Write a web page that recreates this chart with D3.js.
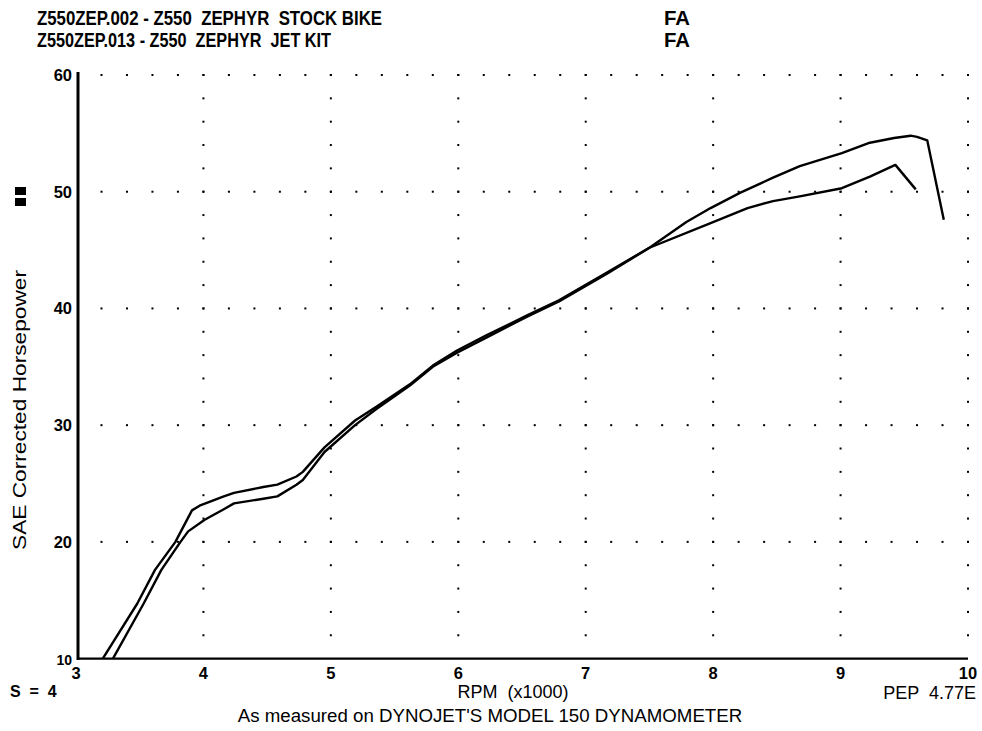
<!DOCTYPE html>
<html><head><meta charset="utf-8">
<script src="https://cdn.jsdelivr.net/npm/d3@7"></script>
<style>body{margin:0;background:#fff}svg{display:block}text{white-space:pre;fill:#000}</style></head>
<body>
<svg id="c" width="982" height="731"></svg>
<script>
const titleNames = ["Z550ZEP.002 - Z550  ZEPHYR  STOCK BIKE", "Z550ZEP.013 - Z550  ZEPHYR  JET KIT"];
const titleCodes = ["FA", "FA"];
const xTicks = [3, 4, 5, 6, 7, 8, 9, 10];
const yTicks = [10, 20, 30, 40, 50, 60];
const stockRpm = [3.29, 3.53, 3.67, 3.82, 3.88, 4.01, 4.16, 4.24, 4.47, 4.58, 4.73, 4.78, 4.95, 5.19, 5.36, 5.62, 5.80, 5.99, 6.22, 6.54, 6.79, 7.17, 7.50, 7.98, 8.27, 8.47, 8.68, 9.01, 9.23, 9.43, 9.59];
const stockHp  = [10.0, 14.7, 17.6, 20.0, 20.9, 21.9, 22.8, 23.3, 23.7, 23.9, 24.9, 25.3, 27.7, 30.0, 31.4, 33.4, 35.0, 36.2, 37.5, 39.3, 40.6, 43.0, 45.2, 47.3, 48.6, 49.2, 49.6, 50.3, 51.3, 52.3, 50.2];
const jetRpm = [3.21, 3.48, 3.62, 3.78, 3.91, 3.97, 4.16, 4.24, 4.47, 4.58, 4.73, 4.78, 4.95, 5.19, 5.36, 5.62, 5.80, 5.99, 6.22, 6.54, 6.79, 7.17, 7.50, 7.79, 7.98, 8.21, 8.47, 8.68, 9.01, 9.23, 9.42, 9.55, 9.60, 9.68, 9.81];
const jetHp  = [10.0, 14.7, 17.6, 20.0, 22.7, 23.1, 23.9, 24.2, 24.7, 24.9, 25.6, 26.0, 28.1, 30.4, 31.6, 33.5, 35.1, 36.4, 37.7, 39.4, 40.7, 43.1, 45.2, 47.4, 48.6, 49.9, 51.2, 52.2, 53.3, 54.2, 54.6, 54.8, 54.7, 54.4, 47.6];

const svg = d3.select("#c");
const ff = "Liberation Sans, Arial, sans-serif";
const x = d3.scaleLinear().domain([3, 10]).range([76, 968]);
const y = d3.scaleLinear().domain([10, 60]).range([658.6, 75]);

// titles
titleNames.forEach((t, i) => {
  svg.append("text").attr("x", 37).attr("y", 25 + i * 22)
    .attr("font-family", ff).attr("font-weight", "bold")
    .attr("font-size", 19.5).attr("textLength", i === 0 ? 345 : 294).attr("lengthAdjust", "spacingAndGlyphs")
    .text(t);
  svg.append("text").attr("x", 664).attr("y", 25 + i * 22)
    .attr("font-family", ff).attr("font-weight", "bold")
    .attr("font-size", 19.5).attr("textLength", 26).attr("lengthAdjust", "spacingAndGlyphs")
    .text(titleCodes[i]);
});

// dotted grid
const g = svg.append("g").attr("fill", "#000");
xTicks.filter(v => v > 3).forEach(v => {
  d3.range(12, 60.01, 2).forEach(h => {
    g.append("rect").attr("x", x(v) - 1).attr("y", y(h) - 1).attr("width", 2).attr("height", 2);
  });
});
yTicks.filter(v => v > 10).forEach(h => {
  d3.range(3.2, 10.01, 0.2).forEach(r => {
    g.append("rect").attr("x", x(r) - 1).attr("y", y(h) - 1).attr("width", 2).attr("height", 2);
  });
});

// axes
svg.append("line").attr("x1", 78).attr("x2", 78).attr("y1", y(60) - 3).attr("y2", y(10) + 1.5)
  .attr("stroke", "#000").attr("stroke-width", 3);
svg.append("line").attr("x1", 77).attr("x2", x(10)).attr("y1", y(10)).attr("y2", y(10))
  .attr("stroke", "#000").attr("stroke-width", 2.2);

// tick labels
svg.append("g").selectAll("text").data(yTicks).join("text")
  .attr("x", 72).attr("y", d => y(d) + 6).attr("text-anchor", "end")
  .attr("font-family", ff).attr("font-weight", "bold")
  .attr("font-size", d => d === 10 ? 14 : 16.5).text(d => d);
svg.append("g").selectAll("text").data(xTicks).join("text")
  .attr("x", d => x(d)).attr("y", 679).attr("text-anchor", "middle")
  .attr("font-family", ff).attr("font-weight", "bold")
  .attr("font-size", 16.5).text(d => d);

// curves
const line = d3.line().x(d => x(d[0])).y(d => y(d[1]));
[[stockRpm, stockHp], [jetRpm, jetHp]].forEach(([r, h]) => {
  svg.append("path").datum(r.map((v, i) => [v, h[i]])).attr("d", line)
    .attr("fill", "none").attr("stroke", "#000").attr("stroke-width", 2.4).attr("stroke-linejoin", "round");
});

// y label and marks
svg.append("text").attr("transform", "translate(26,410) rotate(-90)").attr("text-anchor", "middle")
  .attr("font-family", ff).attr("font-size", 19).attr("textLength", 280).attr("lengthAdjust", "spacingAndGlyphs")
  .text("SAE Corrected Horsepower");
svg.append("rect").attr("x", 15).attr("y", 187).attr("width", 11).attr("height", 8).attr("fill", "#000");
svg.append("rect").attr("x", 15).attr("y", 198).attr("width", 11).attr("height", 8).attr("fill", "#000");

// footer texts
svg.append("text").attr("x", 10).attr("y", 697).attr("font-family", ff).attr("font-weight", "bold").attr("font-size", 16).text("S  =  4");
svg.append("text").attr("x", 513).attr("y", 698).attr("text-anchor", "middle").attr("font-family", ff).attr("font-size", 18).text("RPM  (x1000)");
svg.append("text").attr("x", 976).attr("y", 699).attr("text-anchor", "end").attr("font-family", ff).attr("font-size", 18).text("PEP  4.77E");
svg.append("text").attr("x", 490).attr("y", 722).attr("text-anchor", "middle").attr("font-family", ff).attr("font-size", 18.7).text("As measured on DYNOJET'S MODEL 150 DYNAMOMETER");
</script>
</body></html>
